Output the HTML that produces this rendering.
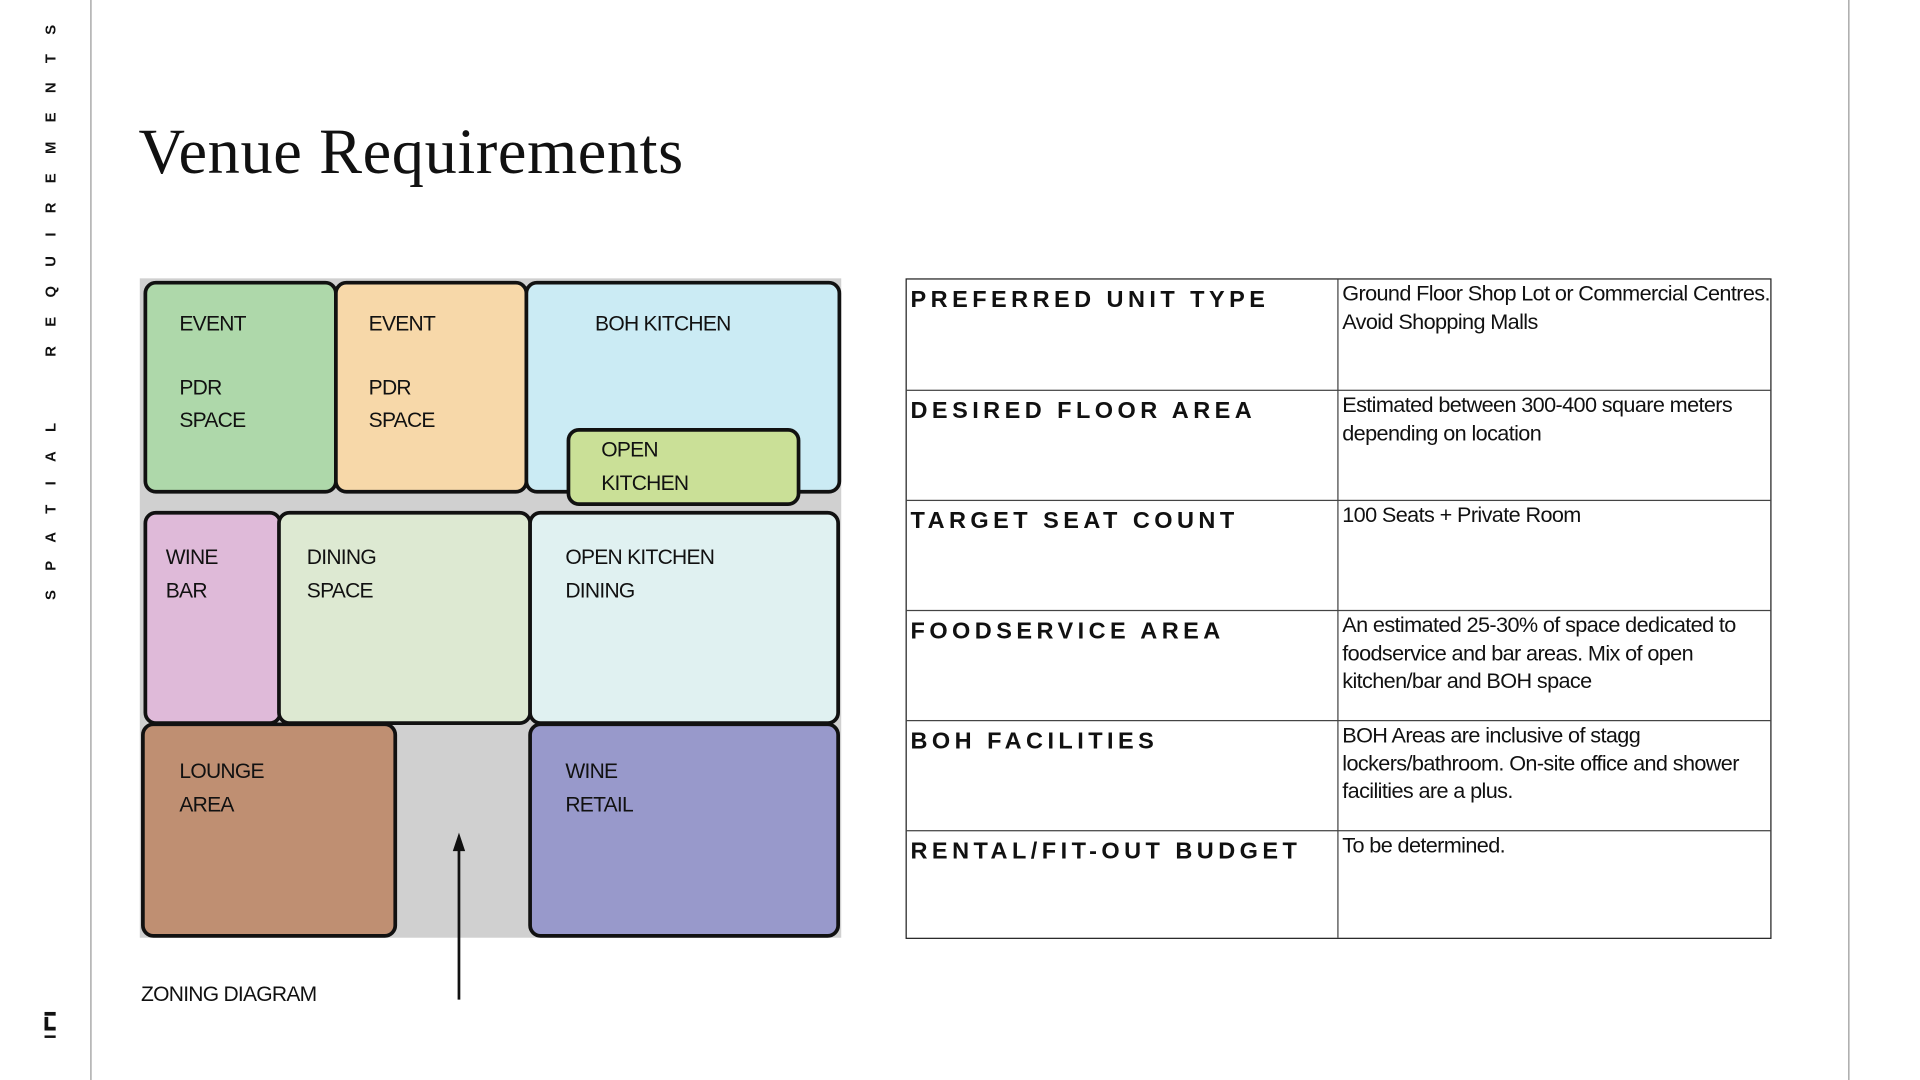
<!DOCTYPE html>
<html><head><meta charset="utf-8"><style>
html,body{margin:0;padding:0;background:#fff;width:1920px;height:1080px;overflow:hidden}
#w{position:absolute;left:0;top:0;width:1552px;height:873px;transform:scale(1.2371);transform-origin:0 0;font-family:"Liberation Sans",sans-serif;color:#111}
.a{position:absolute}
.b{position:absolute;box-sizing:border-box;border:3.5px solid #111;border-radius:10px}
.t{position:absolute;font-size:17px;letter-spacing:-0.6px;line-height:26px;white-space:nowrap}
.tb{position:absolute;left:732px;top:225px;width:700px;height:534px;border:1px solid #222;box-sizing:border-box}
.row{position:absolute;left:0;width:698px;height:89px;border-top:1px solid #444;box-sizing:border-box}
.h{position:absolute;left:3px;top:6px;font-weight:bold;font-size:19px;letter-spacing:3.6px;white-space:nowrap}
.d{position:absolute;left:352px;top:0px;font-size:17.5px;letter-spacing:-0.5px;line-height:22.5px;width:346px}
</style></head><body><div id="w">
<div class="a" style="left:73px;top:0;width:1px;height:873px;background:#999"></div>
<div class="a" style="left:1494px;top:0;width:1px;height:873px;background:#999"></div>
<div class="a" style="left:31px;top:485px;width:445px;transform:rotate(-90deg);transform-origin:0 0;font-size:12px;font-weight:bold;letter-spacing:15.6px;white-space:nowrap;line-height:20px">SPATIAL&nbsp;&nbsp;REQUIREMENTS</div>
<div class="a" style="left:36px;top:818px;width:9px;height:3px;background:#111"></div>
<div class="a" style="left:36px;top:822px;width:3px;height:10px;background:#111"></div>
<div class="a" style="left:36px;top:830px;width:9px;height:3px;background:#111"></div>
<div class="a" style="left:36px;top:837px;width:9px;height:2px;background:#111"></div>
<div class="a" style="left:112px;top:92px;font-family:'Liberation Serif',serif;font-size:52px;line-height:64px;white-space:nowrap;letter-spacing:0.5px">Venue Requirements</div>

<div class="a" style="left:113px;top:225px;width:567px;height:533px;background:#d0d0d0"></div>
<div class="b" style="left:116px;top:227px;width:157px;height:172px;background:#aed8aa"></div>
<div class="b" style="left:270px;top:227px;width:157px;height:172px;background:#f7d8a9"></div>
<div class="b" style="left:424px;top:227px;width:256px;height:172px;background:#cbebf4"></div>
<div class="b" style="left:458px;top:346px;width:189px;height:63px;background:#cae097"></div>
<div class="b" style="left:116px;top:413px;width:112px;height:173px;background:#dfbad9"></div>
<div class="b" style="left:224px;top:413px;width:206px;height:173px;background:#dde9d2"></div>
<div class="b" style="left:427px;top:413px;width:252px;height:173px;background:#e0f1f1"></div>
<div class="b" style="left:114px;top:584px;width:207px;height:174px;background:#bf8f72"></div>
<div class="b" style="left:427px;top:584px;width:252px;height:174px;background:#9899cb"></div>

<div class="t" style="left:145px;top:249px">EVENT</div>
<div class="t" style="left:145px;top:301px">PDR<br>SPACE</div>
<div class="t" style="left:298px;top:249px">EVENT</div>
<div class="t" style="left:298px;top:301px">PDR<br>SPACE</div>
<div class="t" style="left:481px;top:249px">BOH KITCHEN</div>
<div class="t" style="left:486px;top:350px;line-height:27px">OPEN<br>KITCHEN</div>
<div class="t" style="left:134px;top:437px;line-height:27px">WINE<br>BAR</div>
<div class="t" style="left:248px;top:437px;line-height:27px">DINING<br>SPACE</div>
<div class="t" style="left:457px;top:437px;line-height:27px">OPEN KITCHEN<br>DINING</div>
<div class="t" style="left:145px;top:610px;line-height:27px">LOUNGE<br>AREA</div>
<div class="t" style="left:457px;top:610px;line-height:27px">WINE<br>RETAIL</div>
<div class="t" style="left:114px;top:791px">ZONING DIAGRAM</div>
<svg class="a" style="left:360px;top:670px" width="22" height="142"><line x1="11" y1="10" x2="11" y2="138" stroke="#111" stroke-width="2.2"/><polygon points="11,3 6,18 16,18" fill="#111"/></svg>

<div class="tb">
<div class="a" style="left:348px;top:0;width:1px;height:532px;background:#444"></div>
<div class="row" style="top:0;border-top:none"><div class="h">PREFERRED UNIT TYPE</div><div class="d" style="top:0">Ground Floor Shop Lot or Commercial Centres. Avoid Shopping Malls</div></div>
<div class="row" style="top:89px"><div class="h">DESIRED FLOOR AREA</div><div class="d">Estimated between 300-400 square meters depending on location</div></div>
<div class="row" style="top:178px"><div class="h">TARGET SEAT COUNT</div><div class="d">100 Seats + Private Room</div></div>
<div class="row" style="top:267px"><div class="h">FOODSERVICE AREA</div><div class="d">An estimated 25-30% of space dedicated to foodservice and bar areas. Mix of open kitchen/bar and BOH space</div></div>
<div class="row" style="top:356px"><div class="h">BOH FACILITIES</div><div class="d">BOH Areas are inclusive of stagg lockers/bathroom. On-site office and shower facilities are a plus.</div></div>
<div class="row" style="top:445px"><div class="h">RENTAL/FIT-OUT BUDGET</div><div class="d">To be determined.</div></div>
</div>
</div></body></html>
